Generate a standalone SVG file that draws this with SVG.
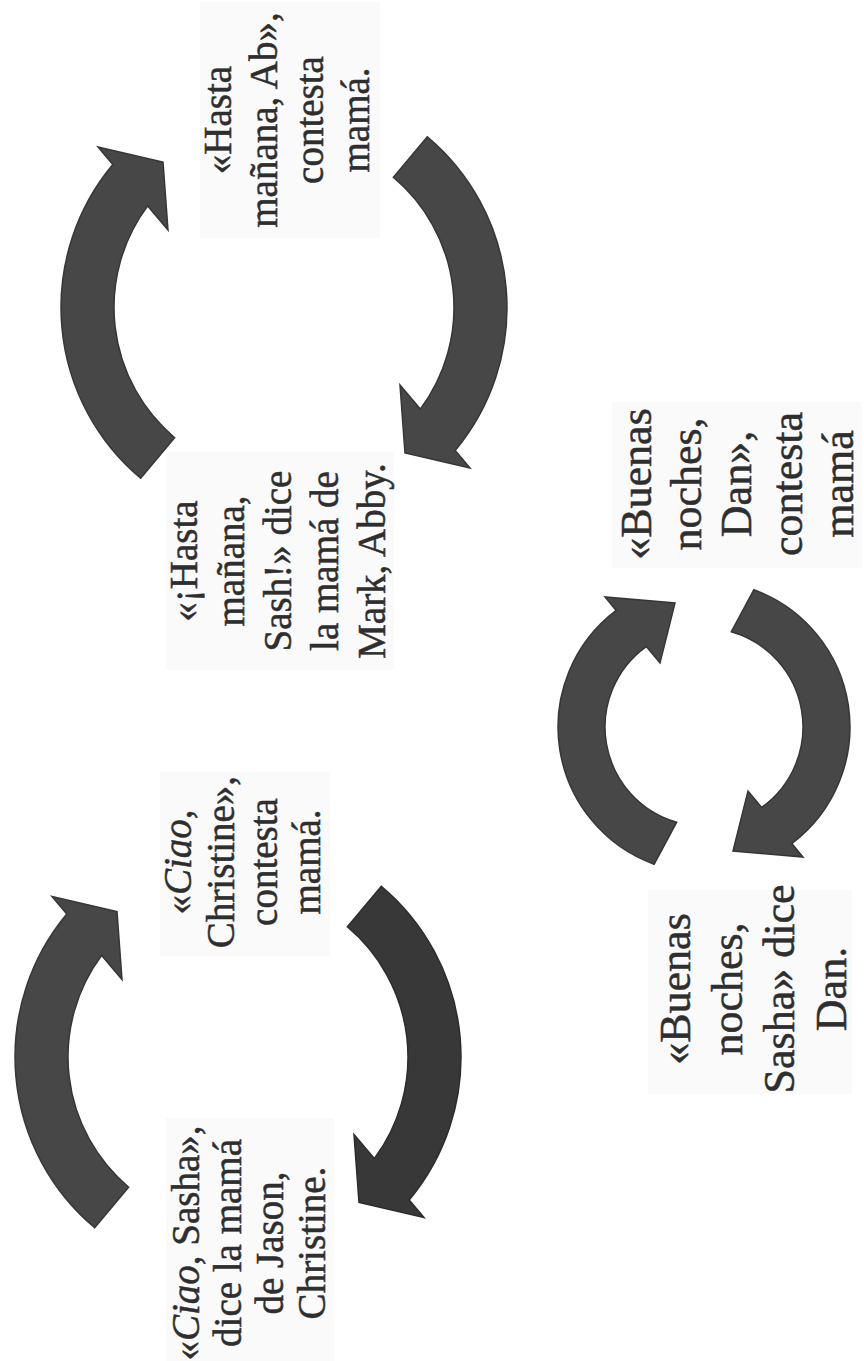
<svg xmlns="http://www.w3.org/2000/svg" xmlns:xlink="http://www.w3.org/1999/xlink" width="864" height="1361" viewBox="0 0 864 1361">
<style>
.arrow{fill:#474747;stroke:#363636;stroke-width:1.5;stroke-linejoin:miter}
.dark{fill:#383838;stroke:#2c2c2c}
.box{fill:#fafafa}
.t{font-family:"Liberation Serif","Times New Roman",serif;font-size:39px;fill:#2e2e2e;stroke:#2e2e2e;stroke-width:0.5;text-anchor:middle}
.big{font-size:44px}
.i{font-style:italic}
</style>
<defs>
<path id="arcL" d="M -143.3,170.8 A 223 223 0 0 1 -171.2,-142.9 L -186,-160.5 L -121,-145.5 L -116,-77.5 L -136.3,-101.6 A 170 170 0 0 0 -109.3,130.2 Z"/>
<path id="arcS" d="M -49.9,137.2 A 146 146 0 0 1 -87.8,-116.6 L -99,-130 L -29,-124 L -44,-64 L -57.7,-80.4 A 99 99 0 0 0 -27.3,95.2 Z"/>
</defs>
<rect width="864" height="1361" fill="#ffffff"/>
<g id="connectors">
<use xlink:href="#arcL" class="arrow" transform="translate(284,307.5)"/>
<use xlink:href="#arcL" class="arrow" transform="translate(284,307.5) rotate(180)"/>
<use xlink:href="#arcL" class="arrow" transform="translate(238,1057)"/>
<use xlink:href="#arcL" class="arrow dark" transform="translate(238,1057) rotate(180)"/>
<use xlink:href="#arcS" class="arrow" transform="translate(704,727)"/>
<use xlink:href="#arcS" class="arrow" transform="translate(704,727) rotate(180)"/>
</g>
<g id="node-hasta-ab">
<rect class="box" x="200" y="2" width="180" height="236"/>
<text class="t" transform="translate(0,120) rotate(-90)"><tspan x="0" y="231">«Hasta</tspan><tspan x="0" y="277">mañana, Ab»,</tspan><tspan x="0" y="323">contesta</tspan><tspan x="0" y="369">mamá.</tspan></text>
</g>
<g id="node-hasta-sash">
<rect class="box" x="166" y="452" width="228" height="218"/>
<text class="t" transform="translate(0,561) rotate(-90)"><tspan x="0" y="197">«¡Hasta</tspan><tspan x="0" y="244">mañana,</tspan><tspan x="0" y="291">Sash!» dice</tspan><tspan x="0" y="338">la mamá de</tspan><tspan x="0" y="385">Mark, Abby.</tspan></text>
</g>
<g id="node-ciao-christine">
<rect class="box" x="160" y="772" width="170" height="184"/>
<text class="t" transform="translate(0,862) rotate(-90)"><tspan x="0" y="191">«<tspan class="i">Ciao</tspan>,</tspan><tspan x="0" y="234">Christine»,</tspan><tspan x="0" y="277">contesta</tspan><tspan x="0" y="320">mamá.</tspan></text>
</g>
<g id="node-ciao-sasha">
<rect class="box" x="166" y="1118" width="168" height="243"/>
<text class="t" transform="translate(0,1243) rotate(-90)"><tspan x="0" y="199">«<tspan class="i">Ciao</tspan>, Sasha»,</tspan><tspan x="0" y="241">dice la mamá</tspan><tspan x="0" y="283">de Jason,</tspan><tspan x="0" y="325">Christine.</tspan></text>
</g>
<g id="node-buenas-sasha">
<rect class="box" x="648" y="890" width="204" height="204"/>
<text class="t big" transform="translate(0,989) rotate(-90)"><tspan x="0" y="690">«Buenas</tspan><tspan x="0" y="742">noches,</tspan><tspan x="0" y="794">Sasha» dice</tspan><tspan x="0" y="846">Dan.</tspan></text>
</g>
<g id="node-buenas-dan">
<rect class="box" x="612" y="402" width="250" height="166"/>
<text class="t big" transform="translate(0,484) rotate(-90)"><tspan x="0" y="651">«Buenas</tspan><tspan x="0" y="701">noches,</tspan><tspan x="0" y="751">Dan»,</tspan><tspan x="0" y="802">contesta</tspan><tspan x="0" y="853">mamá</tspan></text>
</g>
</svg>
